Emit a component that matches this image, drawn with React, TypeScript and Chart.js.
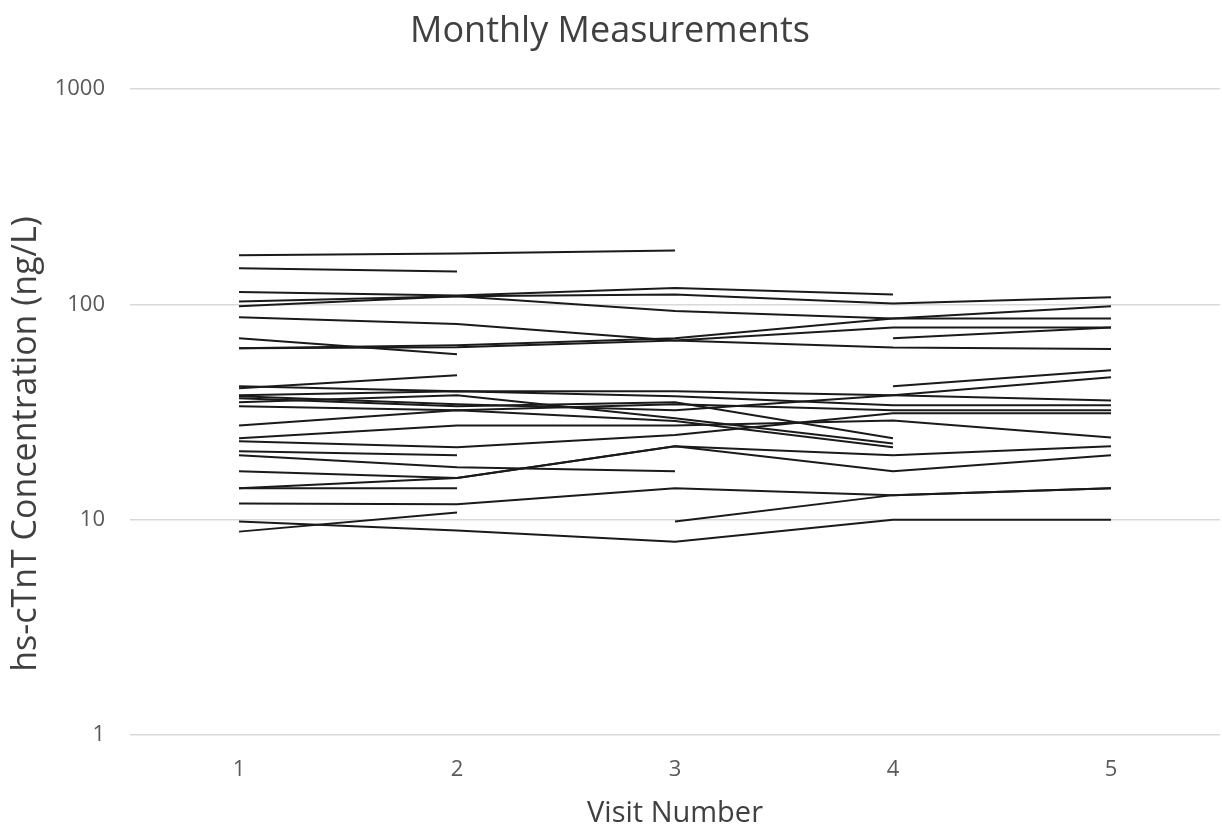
import { useEffect, useRef } from 'react';
import { Chart, registerables } from 'chart.js';

Chart.register(...registerables);

// Visit numbers on the category axis and the decades shown on the log axis
const visits = ['1', '2', '3', '4', '5'];
const decadeTicks = [1, 10, 100, 1000];

// hs-cTnT (ng/L) per patient at each monthly visit; null = no sample at that visit
const p01 = [169, 172, 178, null, null];
const p02 = [147, 142, null, null, null];
const p03 = [114, 110, 119, 111, null];
const p04 = [103, 109, 111, 101, 108];
const p05 = [98, 109, 93, 86, 86];
const p06 = [87, 81, 68, 63, 62];
const p07 = [69.5, 58.6, null, null, null];
const p08 = [62.5, 64.5, 69.5, 86, 98];
const p09 = [62.5, 63.2, 68, 78, 78];
const p10 = [null, null, null, 69.5, 78];
const p11 = [41.6, 39.5, 39.5, 37.8, 35.8];
const p12 = [40.8, 46.8, null, null, null];
const p13 = [37.8, 39.5, 37.4, 34, 34];
const p14 = [37.4, 34.4, 32.2, 37.8, 45.8];
const p15 = [36.6, 33.6, 35.1, 23.9, null];
const p16 = [35.1, 37.8, 29.6, 22.6, null];
const p17 = [33.6, 32.2, 34.4, 32.2, 32.2];
const p18 = [27.4, 32.2, 28.7, 21.7, null];
const p19 = [23.9, 27.4, 27.4, 28.9, 24.1];
const p20 = [23.1, 21.7, 24.7, 31.2, 31.2];
const p21 = [20.8, 19.9, null, null, null];
const p22 = [19.9, 17.5, 16.8, null, null];
const p23 = [16.8, 15.6, 21.9, 19.9, 21.9];
const p24 = [14, 15.6, 21.9, 16.8, 19.9];
const p25 = [14, 14, null, null, null];
const p26 = [11.9, 11.8, 14, 13, 14];
const p27 = [9.8, 8.9, 7.9, 10, 10];
const p28 = [8.8, 10.8, null, null, null];
const p29 = [null, null, 9.8, 13, 14];
const p30 = [null, null, null, 41.6, 49.4];

const patients = [
  p01, p02, p03, p04, p05, p06, p07, p08, p09, p10,
  p11, p12, p13, p14, p15, p16, p17, p18, p19, p20,
  p21, p22, p23, p24, p25, p26, p27, p28, p29, p30,
];

const FONT = "'Open Sans', 'Noto Sans', sans-serif";
const Y_TITLE = 'hs-cTnT Concentration (ng/L)';

// Vertical axis title, set a little below the middle of the plot area
const yTitlePlugin = {
  id: 'yAxisTitle',
  afterDraw(chart: any) {
    const { ctx, chartArea } = chart;
    ctx.save();
    ctx.font = `34px ${FONT}`;
    ctx.fillStyle = '#404040';
    ctx.textAlign = 'center';
    ctx.textBaseline = 'middle';
    ctx.translate(26, (chartArea.top + chartArea.bottom) / 2 + 32);
    ctx.rotate(-Math.PI / 2);
    ctx.fillText(Y_TITLE, 0, 0);
    ctx.restore();
  },
};

export default function App() {
  const canvasRef = useRef<HTMLCanvasElement>(null);

  useEffect(() => {
    const chart = new Chart(canvasRef.current as HTMLCanvasElement, {
      type: 'line',
      data: {
        labels: visits,
        datasets: patients.map((values, i) => ({
          label: `Patient ${i + 1}`,
          data: values,
          borderColor: '#1a1a1a',
          borderWidth: 2,
          pointRadius: 0,
          pointHoverRadius: 0,
          tension: 0,
          spanGaps: false,
          fill: false,
        })),
      },
      options: {
        animation: false,
        responsive: true,
        maintainAspectRatio: false,
        layout: { padding: { left: 0, right: 2, top: 0, bottom: 0 } },
        plugins: {
          legend: { display: false },
          tooltip: { enabled: false },
          title: {
            display: true,
            text: 'Monthly Measurements',
            color: '#404040',
            font: { family: FONT, size: 36, weight: 'normal' },
            padding: { top: 10, bottom: 35.8 },
          },
        },
        scales: {
          x: {
            offset: true,
            grid: { display: false },
            border: { display: false },
            ticks: {
              color: '#595959',
              font: { family: FONT, size: 22 },
              padding: 14,
              maxRotation: 0,
            },
            title: {
              display: true,
              text: 'Visit Number',
              color: '#404040',
              font: { family: FONT, size: 29 },
              padding: { top: 0, bottom: 1 },
            },
            afterFit: (scale: any) => {
              scale.height = 97;
            },
          },
          y: {
            type: 'logarithmic',
            min: 1,
            max: 1000,
            afterBuildTicks: (scale: any) => {
              scale.ticks = decadeTicks.map((value) => ({ value }));
            },
            grid: { color: '#d9d9d9', lineWidth: 1.5, drawTicks: false },
            border: { display: false },
            ticks: {
              color: '#595959',
              font: { family: FONT, size: 22 },
              padding: 25,
              callback: (value: any) => String(value),
            },
            afterFit: (scale: any) => {
              scale.width = 130;
            },
          },
        },
      },
      plugins: [yTitlePlugin],
    });
    return () => chart.destroy();
  }, []);

  return (
    <div
      style={{
        position: 'fixed',
        left: 0,
        top: 0,
        width: 1222,
        height: 832,
        background: '#ffffff',
      }}
    >
      <canvas ref={canvasRef} />
    </div>
  );
}
